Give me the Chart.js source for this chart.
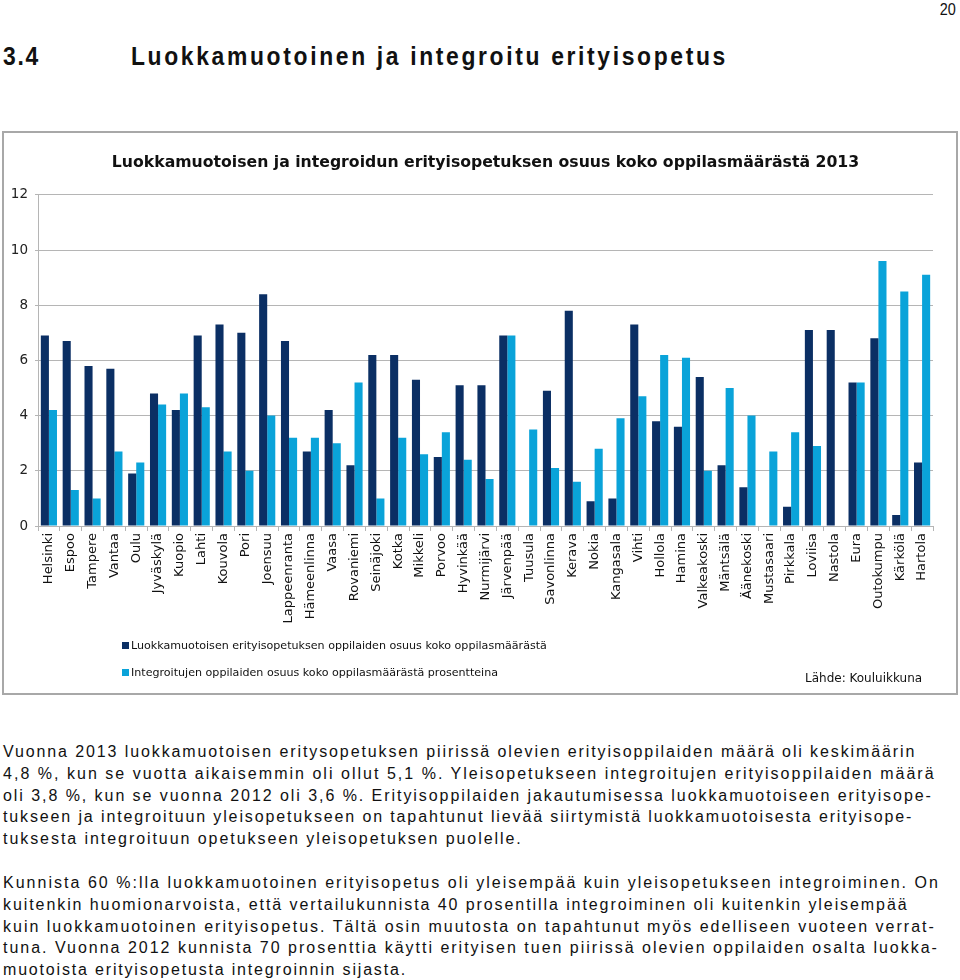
<!DOCTYPE html>
<html>
<head>
<meta charset="utf-8">
<script src="https://cdn.jsdelivr.net/npm/chart.js@4.4.1/dist/chart.umd.min.js"></script>
<style>
  body { margin: 0; background: #fff; width: 960px; height: 980px; position: relative; overflow: hidden; }
  .pageno { position: absolute; right: 4px; top: 0px; font: 17px "Liberation Sans", sans-serif; color: #111; transform: scaleX(0.85); transform-origin: right top; }
  .heading { position: absolute; top: 41px; font: bold 26px "Liberation Sans", Arial, sans-serif; color: #111; white-space: nowrap; transform: scaleX(0.88); transform-origin: left top; }
  .box { position: absolute; left: 2px; top: 131px; width: 952px; height: 560px; border: 2px solid #a8a8a8; }
  .box canvas { position: absolute; left: 0; top: 0; }
  .leg { position: absolute; font: 11.1px "DejaVu Sans", Verdana, sans-serif; color: #111; white-space: nowrap; }
  .leg i { display: inline-block; width: 7px; height: 7px; margin-right: 2px; vertical-align: 0px; }
  .src { position: absolute; left: 801px; top: 538px; font: 12px "DejaVu Sans", Verdana, sans-serif; color: #111; }
  .txt { position: absolute; left: 3px; font: 16px "Liberation Sans", Arial, sans-serif; color: #111; white-space: nowrap; }
  .txt span { display: block; height: 21.8px; line-height: 21.8px; }
</style>
</head>
<body>
<div class="pageno">20</div>
<div class="heading" style="left:3px" data-right="40">3.4</div>
<div class="heading" style="left:131px" data-right="728">Luokkamuotoinen ja integroitu erityisopetus</div>

<div class="box">
  <canvas id="chart" width="952" height="560"></canvas>
  <div class="leg" style="left:118px; top:506px"><i style="background:#0b2f64"></i>Luokkamuotoisen erityisopetuksen oppilaiden osuus koko oppilasmäärästä</div>
  <div class="leg" style="left:118px; top:533px"><i style="background:#0aa3d9"></i>Integroitujen oppilaiden osuus koko oppilasmäärästä prosentteina</div>
  <div class="src">Lähde: Kouluikkuna</div>
</div>

<div class="txt" style="top:741px">
<span data-right="916">Vuonna 2013 luokkamuotoisen eritysopetuksen piirissä olevien erityisoppilaiden määrä oli keskimäärin</span>
<span data-right="936">4,8 %, kun se vuotta aikaisemmin oli ollut 5,1 %. Yleisopetukseen integroitujen erityisoppilaiden määrä</span>
<span data-right="933">oli 3,8 %, kun se vuonna 2012 oli 3,6 %. Erityisoppilaiden jakautumisessa luokkamuotoiseen erityisope-</span>
<span data-right="913">tukseen ja integroituun yleisopetukseen on tapahtunut lievää siirtymistä luokkamuotoisesta erityisope-</span>
<span data-right="523">tuksesta integroituun opetukseen yleisopetuksen puolelle.</span>
</div>
<div class="txt" style="top:872px">
<span data-right="940">Kunnista 60 %:lla luokkamuotoinen erityisopetus oli yleisempää kuin yleisopetukseen integroiminen. On</span>
<span data-right="909">kuitenkin huomionarvoista, että vertailukunnista 40 prosentilla integroiminen oli kuitenkin yleisempää</span>
<span data-right="936">kuin luokkamuotoinen erityisopetus. Tältä osin muutosta on tapahtunut myös edelliseen vuoteen verrat-</span>
<span data-right="939">tuna. Vuonna 2012 kunnista 70 prosenttia käytti erityisen tuen piirissä olevien oppilaiden osalta luokka-</span>
<span data-right="407">muotoista erityisopetusta integroinnin sijasta.</span>
</div>

<script>
const municipalities = ["Helsinki","Espoo","Tampere","Vantaa","Oulu","Jyväskylä","Kuopio","Lahti","Kouvola","Pori",
  "Joensuu","Lappeenranta","Hämeenlinna","Vaasa","Rovaniemi","Seinäjoki","Kotka","Mikkeli","Porvoo","Hyvinkää",
  "Nurmijärvi","Järvenpää","Tuusula","Savonlinna","Kerava","Nokia","Kangasala","Vihti","Hollola","Hamina",
  "Valkeakoski","Mäntsälä","Äänekoski","Mustasaari","Pirkkala","Loviisa","Nastola","Eura","Outokumpu","Kärkölä","Hartola"];

// luokkamuotoinen erityisopetus, % koko oppilasmäärästä
const classBased = [6.9,6.7,5.8,5.7,1.9,4.8,4.2,6.9,7.3,7.0,
  8.4,6.7,2.7,4.2,2.2,6.2,6.2,5.3,2.5,5.1,
  5.1,6.9,0,4.9,7.8,0.9,1.0,7.3,3.8,3.6,
  5.4,2.2,1.4,0,0.7,7.1,7.1,5.2,6.8,0.4,2.3];

// integroidut oppilaat, % koko oppilasmäärästä
const integrated = [4.2,1.3,1.0,2.7,2.3,4.4,4.8,4.3,2.7,2.0,
  4.0,3.2,3.2,3.0,5.2,1.0,3.2,2.6,3.4,2.4,
  1.7,6.9,3.5,2.1,1.6,2.8,3.9,4.7,6.2,6.1,
  2.0,5.0,4.0,2.7,3.4,2.9,0,5.2,9.6,8.5,9.1];

const seriesNames = ["Luokkamuotoisen erityisopetuksen oppilaiden osuus koko oppilasmäärästä",
  "Integroitujen oppilaiden osuus koko oppilasmäärästä prosentteina"];

const font = "'DejaVu Sans', Verdana, sans-serif";

// spread letters so each text line ends where the printed line ends
document.querySelectorAll("[data-right]").forEach(el => {
  const target = +el.dataset.right;
  const text = el.textContent;
  const r = el.getBoundingClientRect();
  const scale = el.classList.contains("heading") ? 0.88 : 1;
  let w = r.width;
  if (el.tagName === "SPAN") {
    const range = document.createRange();
    range.selectNodeContents(el);
    w = range.getBoundingClientRect().width;
  }
  const ls = (target - r.left - w) / scale / text.length;
  el.style.letterSpacing = ls.toFixed(2) + "px";
});

new Chart(document.getElementById("chart"), {
  type: "bar",
  data: {
    labels: municipalities,
    datasets: [
      { label: seriesNames[0], data: classBased, backgroundColor: "#0b2f64", barPercentage: 1, categoryPercentage: 0.74 },
      { label: seriesNames[1], data: integrated, backgroundColor: "#0aa3d9", barPercentage: 1, categoryPercentage: 0.74 }
    ]
  },
  options: {
    responsive: false,
    animation: false,
    layout: { padding: { left: 0, right: 23, top: 0, bottom: 0 } },
    plugins: {
      legend: { display: false },
      tooltip: { enabled: false },
      title: {
        display: true,
        fullSize: false,
        text: "Luokkamuotoisen ja integroidun erityisopetuksen osuus koko oppilasmäärästä 2013",
        color: "#111",
        font: { family: font, size: 15.7, weight: "bold", lineHeight: 1.2 },
        padding: { top: 21, bottom: 22 }
      }
    },
    scales: {
      x: {
        afterFit: s => { s.height = 167; },
        grid: { drawOnChartArea: false, drawTicks: true, tickLength: 5, color: "#b5b5b5" },
        border: { color: "#b5b5b5" },
        ticks: { autoSkip: false, minRotation: 90, maxRotation: 90, padding: 2, color: "#111", font: { family: font, size: 13 } }
      },
      y: {
        min: 0, max: 12,
        afterFit: s => { s.width = 34; },
        grid: { color: "#b5b5b5", drawTicks: true, tickLength: 3 },
        border: { color: "#b5b5b5" },
        ticks: { stepSize: 2, padding: 7, color: "#222", font: { family: font, size: 13.5 } }
      }
    }
  }
});
</script>
</body>
</html>
